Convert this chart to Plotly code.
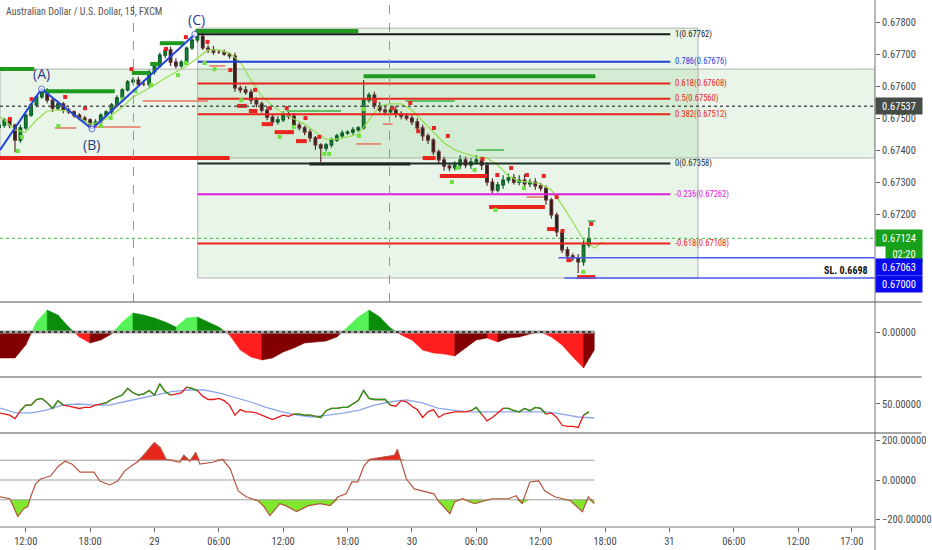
import numpy as np
import plotly.graph_objects as go
from plotly.subplots import make_subplots

FONT = "Roboto Condensed, DejaVu Sans Condensed, sans-serif"

# ---------------- data (time = hours counted from 28th 00:00) ----------------
bar_hours = [9.5 + 0.5 * i for i in range(111)]   # 30 min bars
first_open = 0.67470
closes = [
    0.67478, 0.67494, 0.67478, 0.67431, 0.67469, 0.67509, 0.67541, 0.67566, 0.67581, 0.67556,
    0.67531, 0.67544, 0.67525, 0.67519, 0.67509, 0.67500, 0.67494, 0.67481, 0.67488, 0.67509,
    0.67519, 0.67541, 0.67563, 0.67588, 0.67613, 0.67619, 0.67606, 0.67606, 0.67644, 0.67663,
    0.67697, 0.67713, 0.67675, 0.67663, 0.67675, 0.67719, 0.67744, 0.67756, 0.67719, 0.67713,
    0.67706, 0.67706, 0.67700, 0.67694, 0.67594, 0.67588, 0.67581, 0.67556, 0.67544, 0.67525,
    0.67503, 0.67488, 0.67494, 0.67513, 0.67506, 0.67478, 0.67469, 0.67456, 0.67438, 0.67416,
    0.67406, 0.67416, 0.67431, 0.67444, 0.67453, 0.67456, 0.67463, 0.67469, 0.67556, 0.67572,
    0.67538, 0.67525, 0.67519, 0.67525, 0.67513, 0.67506, 0.67500, 0.67488, 0.67469, 0.67444,
    0.67431, 0.67394, 0.67369, 0.67350, 0.67344, 0.67353, 0.67369, 0.67353, 0.67363, 0.67369,
    0.67353, 0.67300, 0.67275, 0.67291, 0.67306, 0.67313, 0.67300, 0.67306, 0.67294, 0.67300,
    0.67288, 0.67281, 0.67244, 0.67197, 0.67144, 0.67088, 0.67069, 0.67063, 0.67050, 0.67103,
    0.67124,
]
# wick lengths in points (1e-5)
up_wick = [
    8, 6, 5, 4, 10, 6, 5, 6, 10, 12,
    8, 10, 6, 8, 5, 6, 7, 5, 8, 6,
    5, 6, 8, 5, 6, 8, 10, 12, 6, 5,
    8, 7, 10, 12, 6, 5, 6, 8, 10, 9,
    12, 7, 8, 6, 10, 8, 12, 10, 9, 8,
    10, 7, 12, 8, 6, 10, 8, 7, 9, 6,
    5, 6, 8, 7, 9, 6, 8, 6, 63, 8,
    10, 12, 15, 10, 12, 8, 10, 9, 11, 10,
    8, 6, 8, 10, 9, 12, 15, 10, 12, 15,
    10, 8, 12, 10, 15, 14, 12, 15, 18, 10,
    12, 10, 8, 6, 8, 6, 10, 8, 12, 22,
    35,
]
dn_wick = [
    6, 8, 10, 38, 8, 6, 5, 8, 6, 10,
    12, 8, 10, 6, 8, 7, 6, 15, 5, 6,
    5, 8, 6, 7, 5, 6, 8, 6, 10, 8,
    6, 10, 12, 8, 6, 5, 6, 8, 6, 10,
    8, 6, 5, 8, 12, 10, 8, 12, 10, 8,
    10, 12, 8, 6, 10, 12, 8, 10, 12, 15,
    43, 10, 8, 6, 8, 6, 8, 6, 5, 8,
    10, 8, 10, 8, 12, 10, 8, 10, 12, 15,
    12, 10, 12, 15, 10, 8, 12, 10, 12, 8,
    15, 12, 10, 8, 12, 10, 8, 10, 12, 10,
    12, 10, 15, 12, 15, 10, 8, 10, 34, 12,
    8,
]

# lime trailing line
ma_hours = [9.6] + list(range(10, 66)) + [65.8]
ma_prices = [
    0.67503, 0.67494, 0.67463, 0.67456, 0.67494, 0.67522, 0.67525, 0.67522, 0.67500, 0.67481,
    0.67488, 0.67509, 0.67534, 0.67566, 0.67584, 0.67603, 0.67625, 0.67644, 0.67663, 0.67688,
    0.67713, 0.67713, 0.67703, 0.67675, 0.67619, 0.67569, 0.67538, 0.67516, 0.67497, 0.67481,
    0.67456, 0.67434, 0.67434, 0.67441, 0.67450, 0.67494, 0.67538, 0.67544, 0.67544, 0.67525,
    0.67491, 0.67459, 0.67422, 0.67400, 0.67388, 0.67378, 0.67375, 0.67353, 0.67319, 0.67303,
    0.67300, 0.67294, 0.67275, 0.67228, 0.67175, 0.67119, 0.67094, 0.67113,
]

# fractal dots
red_dot_hours = [10.52, 12.55, 15.68, 17.53, 21.86, 25.08, 26.93, 28.95, 31.07, 33.38,
                 34.76, 36.33, 38.08, 39.37, 44.53, 46.19, 47.85, 48.59, 50.06, 51.35,
                 54.58, 55.96, 57.25, 58.72, 60.29, 61.49, 62.04, 64.71]
red_dot_prices = [0.67497, 0.67559, 0.67566, 0.67531, 0.67653, 0.67716, 0.67753, 0.67738, 0.67650, 0.67588,
                  0.67531, 0.67531, 0.67500, 0.67441, 0.67553, 0.67531, 0.67547, 0.67459, 0.67469, 0.67444,
                  0.67372, 0.67322, 0.67344, 0.67322, 0.67319, 0.67253, 0.67147, 0.67169]
green_dot_hours = [11.26, 11.63, 15.04, 19.0, 19.92, 21.03, 22.23, 23.7, 26.19, 26.93,
                   28.68, 29.6, 32.09, 35.68, 36.97, 39.83, 40.29, 43.06, 43.52, 51.72,
                   52.27, 53.84, 55.78, 58.45, 63.98]
green_dot_prices = [0.67397, 0.67441, 0.67475, 0.67475, 0.67500, 0.67559, 0.67584, 0.67603, 0.67634, 0.67672,
                    0.67672, 0.67653, 0.67556, 0.67441, 0.67472, 0.67388, 0.67388, 0.67444, 0.67528, 0.67300,
                    0.67344, 0.67338, 0.67213, 0.67281, 0.67019]

# support / resistance segments: (start hour, end hour, price)
green_thick = [(9.0, 12.8, 0.67653), (13.6, 20.3, 0.67584), (21.9, 23.6, 0.67641), (23.6, 24.4, 0.67669),
               (24.5, 26.8, 0.67734), (27.8, 43.0, 0.67772), (43.5, 65.1, 0.67631)]
green_thin = [(36.3, 41.4, 0.67522), (47.4, 52.0, 0.67553), (54.0, 56.6, 0.67400), (64.4, 65.1, 0.67178)]
red_thick = [(9.0, 31.0, 0.67375), (31.7, 32.6, 0.67538), (32.8, 33.6, 0.67522), (34.0, 35.0, 0.67481),
             (35.2, 37.0, 0.67456), (37.2, 38.2, 0.67428), (49.0, 50.2, 0.67375), (50.6, 55.0, 0.67319),
             (55.2, 60.4, 0.67222), (60.6, 61.4, 0.67153), (62.4, 62.9, 0.67056), (63.4, 65.1, 0.67003)]
black_thick = [(38.45, 47.85, 0.67356)]
red_thin = [(14.7, 16.7, 0.67469), (17.9, 22.7, 0.67472), (22.9, 29.0, 0.67553), (29.1, 30.6, 0.67663),
            (42.8, 45.1, 0.67419), (45.3, 46.2, 0.67481), (58.7, 60.3, 0.67253)]

# ABC wave
abc_hours = [9.6, 13.47, 18.17, 27.76]
abc_prices = [0.67400, 0.67591, 0.67466, 0.67762]
abc_names = ["(A)", "(B)", "(C)"]

# Fibonacci extension
fib_start, fib_end, fib_box_end = 28.03, 72.09, 74.67
fib_levels = ["1", "0.786", "0.618", "0.5", "0.382", "0", "-0.236", "-0.618"]
fib_prices = [0.67762, 0.67676, 0.67608, 0.67560, 0.67512, 0.67358, 0.67262, 0.67108]
fib_box_low, fib_box_high = 0.67000, 0.67781
zone_low, zone_high = 0.67375, 0.67653

ref_price = 0.67537
last_price = 0.67124
countdown = "02:20"
target_price, target_start = 0.67063, 61.67
stop_price, stop_start = 0.67000, 62.2
stop_text = "SL. 0.6698"
session_marks = [22.04, 45.91]

# oscillator panel
osc_hours = list(range(9, 66))
osc_values = [-0.0026, -0.0026, -0.0026, -0.0013, 0.0010, 0.0022, 0.0017, 0.0005, -0.0005, -0.0011,
              -0.0008, -0.0002, 0.0010, 0.0019, 0.0017, 0.0014, 0.0010, 0.0005, 0.0014, 0.0015,
              0.0010, 0.0005, -0.0003, -0.0018, -0.0025, -0.0028, -0.0026, -0.0020, -0.0016, -0.0011,
              -0.0010, -0.0009, -0.0005, 0.0005, 0.0015, 0.0022, 0.0015, 0.0004, -0.0003, -0.0008,
              -0.0018, -0.0021, -0.0022, -0.0024, -0.0016, -0.0008, -0.0006, -0.0010, -0.0006, -0.0005,
              -0.0002, 0.0000, -0.0005, -0.0013, -0.0025, -0.0036, -0.0018]

# RSI panel (per bar) and its signal
rsi_values = [42, 41, 40, 37, 44, 49, 49, 54, 55, 51,
              46, 53, 49, 48, 47, 46, 47, 47, 49, 50,
              51, 54, 56, 58, 64, 60, 58, 59, 62, 58,
              68, 61, 58, 59, 60, 65, 64, 62, 57, 54,
              54, 55, 53, 49, 40, 45, 43, 43, 42, 40,
              38, 36, 38, 40, 39, 41, 41, 40, 40, 39,
              38, 44, 46, 46, 47, 47, 50, 53, 62, 55,
              54, 54, 54, 49, 48, 53, 52, 48, 45, 38,
              43, 45, 38, 41, 42, 43, 43, 43, 44, 47,
              41, 35, 38, 42, 46, 46, 44, 43, 46, 44,
              47, 46, 41, 42, 38, 31, 30, 30, 29, 40,
              43]
sig_hours = [9.6, 11.1, 12.6, 13.9, 15.4, 16.9, 18.4, 19.8, 21.2, 22.7,
             24.2, 25.6, 27.1, 28.6, 30.0, 31.4, 32.9, 34.4, 35.9, 37.3,
             38.7, 40.2, 41.7, 43.1, 44.5, 46.0, 47.5, 49.0, 50.4, 51.8,
             53.3, 54.8, 56.2, 57.7, 59.2, 60.6, 62.0, 63.5, 65.0]
sig_values = [46.4, 42, 42, 44.6, 49, 50, 49, 49, 52, 55,
              58, 61, 62.5, 62.5, 60, 56, 52, 47, 43, 40,
              38.4, 40, 42, 44.6, 49, 52, 53.6, 51, 46.4, 44.6,
              42.9, 42.9, 42.9, 42.9, 42.9, 42.9, 41, 38.4, 37.5]

# CCI panel
cci_hours = [9.6, 10.52, 11.26, 11.81, 12.18, 12.46, 12.92, 13.38, 14.30, 15.04,
             15.68, 16.33, 17.07, 18.36, 18.91, 19.83, 20.57, 21.21, 21.95, 22.50,
             23.06, 23.98, 24.53, 25.08, 26.37, 26.74, 27.30, 27.85, 28.22, 29.42,
             30.34, 31.07, 31.81, 32.55, 33.66, 34.21, 34.76, 35.68, 36.24, 37.25,
             38.36, 39.46, 40.38, 41.12, 41.86, 42.41, 42.96, 43.52, 44.07, 45.27,
             46.37, 46.65, 46.93, 47.48, 48.22, 49.32, 50.06, 50.43, 51.54, 52.00,
             52.73, 53.84, 54.76, 55.50, 56.97, 57.71, 58.26, 59.00, 59.83, 60.38,
             61.31, 62.78, 63.89, 64.44, 65.0]
cci_values = [-85, -95, -185, -145, -135, -85, -20, 5, 20, 70,
              95, 80, 40, 40, -5, -25, -5, 45, 75, 95,
              130, 190, 165, 105, 90, 125, 95, 140, 80, 90,
              105, 55, -55, -85, -105, -135, -180, -120, -130, -160,
              -130, -120, -130, -85, -70, -10, -10, 70, 105, 115,
              125, 155, 105, 5, -45, -60, -70, -105, -170, -110,
              -95, -120, -105, -95, -95, -80, -120, -10, -5, -55,
              -85, -105, -160, -85, -120]

tick_hours = [12, 18, 24, 30, 36, 42, 48, 54, 60, 66, 72, 78, 84, 89]
tick_text = ["12:00", "18:00", "29", "06:00", "12:00", "18:00", "30", "06:00", "12:00", "18:00",
             "31", "06:00", "12:00", "17:00"]

# ---------------- figure ----------------
X_RANGE = [9.6, 91.17]
row_h = [302, 75, 56, 94]
fig = make_subplots(rows=4, cols=1, shared_xaxes=True, vertical_spacing=0, row_heights=row_h)


def seg_xy(segs):
    xs, ys = [], []
    for x0, x1, p in segs:
        xs += [x0, x1, None]
        ys += [p, p, None]
    return xs, ys


def line_trace(x, y, color, width, row=1, dash=None):
    fig.add_trace(go.Scatter(x=x, y=y, mode="lines", line=dict(color=color, width=width, dash=dash),
                             hoverinfo="skip", showlegend=False), row=row, col=1)


# boxes
fig.add_shape(type="rect", xref="x", yref="y", x0=X_RANGE[0], x1=X_RANGE[1], y0=zone_low, y1=zone_high,
              fillcolor="rgba(76,175,80,0.13)", line=dict(color="rgba(150,150,150,0.7)", width=1), layer="below")
fig.add_shape(type="rect", xref="x", yref="y", x0=fib_start, x1=fib_box_end, y0=fib_box_low, y1=fib_box_high,
              fillcolor="rgba(76,175,80,0.13)", line=dict(color="rgba(150,150,150,0.7)", width=1), layer="below")
for h in session_marks:
    fig.add_shape(type="line", xref="x", yref="y domain", x0=h, x1=h, y0=0, y1=1,
                  line=dict(color="#6e98ee", width=1, dash="dash"))
fig.add_shape(type="line", xref="x domain", yref="y", x0=0, x1=1, y0=ref_price, y1=ref_price,
              line=dict(color="#555", width=1.5, dash="dot"))
fig.add_shape(type="line", xref="x domain", yref="y", x0=0, x1=1, y0=last_price, y1=last_price,
              line=dict(color="#44b84a", width=1, dash="dot"))

# candles
opens = [first_open] + closes[:-1]
highs = [max(o, c) + u / 1e5 for o, c, u in zip(opens, closes, up_wick)]
lows = [min(o, c) - d / 1e5 for o, c, d in zip(opens, closes, dn_wick)]
fig.add_trace(go.Candlestick(
    x=bar_hours, open=opens, high=highs, low=lows, close=closes, whiskerwidth=0,
    increasing=dict(line=dict(color="#0d5e24", width=1.2), fillcolor="#12863a"),
    decreasing=dict(line=dict(color="#5a2c2c", width=1.2), fillcolor="#1e1e1e"),
    hoverinfo="skip", showlegend=False), row=1, col=1)

line_trace(ma_hours, ma_prices, "#93dd4e", 1.2)

for segs, color, width in [(red_thin, "#e8735f", 1.5), (green_thin, "#3cb043", 1.5),
                           (green_thick, "#1e9a1e", 4), (red_thick, "#ea241c", 4), (black_thick, "#202020", 3)]:
    xs, ys = seg_xy(segs)
    line_trace(xs, ys, color, width)

fib_colors = ["#1a1a1a", "#1f3fd8", "#ea241c", "#ea241c", "#ea241c", "#1e2e26", "#e020e0", "#ea241c"]
for lvl, p, c in zip(fib_levels, fib_prices, fib_colors):
    line_trace([fib_start, fib_end], [p, p], c, 2)
    fig.add_annotation(x=fib_end, y=p, xref="x", yref="y", text=f"{lvl}({p:.5f})", showarrow=False,
                       xanchor="left", xshift=3, font=dict(family=FONT, size=8.5, color=c))

line_trace([target_start, X_RANGE[1]], [target_price, target_price], "#4a5cf0", 1.5)
line_trace([stop_start, X_RANGE[1]], [stop_price, stop_price], "#4a5cf0", 1.5)
fig.add_annotation(x=X_RANGE[1], y=stop_price, xref="x", yref="y", text=f"<b>{stop_text}</b>",
                   showarrow=False, xanchor="right", yanchor="bottom", xshift=-5, yshift=0,
                   font=dict(family=FONT, size=10, color="#111"))

fig.add_trace(go.Scatter(x=red_dot_hours, y=red_dot_prices, mode="markers",
                         marker=dict(color="#e82424", size=4, symbol="square"),
                         hoverinfo="skip", showlegend=False), row=1, col=1)
fig.add_trace(go.Scatter(x=green_dot_hours, y=green_dot_prices, mode="markers",
                         marker=dict(color="#70e040", size=4, symbol="square"),
                         hoverinfo="skip", showlegend=False), row=1, col=1)

fig.add_trace(go.Scatter(x=abc_hours, y=abc_prices, mode="lines+markers",
                         line=dict(color="#2442dc", width=2),
                         marker=dict(size=[0, 6, 6, 6], color="white", line=dict(color="#2442dc", width=1)),
                         hoverinfo="skip", showlegend=False), row=1, col=1)
for name, h, p, shift in zip(abc_names, abc_hours[1:], abc_prices[1:], [15, -16, 15]):
    fig.add_annotation(x=h, y=p, xref="x", yref="y", text=name, showarrow=False, yshift=shift,
                       xshift=2 if name == "(C)" else 0,
                       font=dict(family="Open Sans, sans-serif", size=14, color="#2c3c88"))

# oscillator panel
osc_cols = {"up_pos": "#57f257", "dn_pos": "#0b8c0b", "dn_neg": "#ff1e1e", "up_neg": "#820000"}
paths = {k: ([], []) for k in osc_cols}
for h0, h1, v0, v1 in zip(osc_hours[:-1], osc_hours[1:], osc_values[:-1], osc_values[1:]):
    slope = v1 - v0
    if v0 * v1 < 0:
        hz = h0 + (h1 - h0) * v0 / (v0 - v1)
        pieces = [([h0, h0, hz], [0, v0, 0], v0), ([hz, h1, h1], [0, v1, 0], v1)]
    else:
        pieces = [([h0, h0, h1, h1], [0, v0, v1, 0], (v0 + v1) / 2)]
    for px, py, vm in pieces:
        if vm >= 0:
            k = "up_pos" if slope >= 0 else "dn_pos"
        else:
            k = "dn_neg" if slope < 0 else "up_neg"
        paths[k][0].extend(px + [px[0], None])
        paths[k][1].extend(py + [py[0], None])
for k, c in osc_cols.items():
    fig.add_trace(go.Scatter(x=paths[k][0], y=paths[k][1], mode="lines", fill="toself", fillcolor=c,
                             line=dict(color=c, width=0.5), hoverinfo="skip", showlegend=False), row=2, col=1)
line_trace([X_RANGE[0], osc_hours[-1]], [0, 0], "#a8a8a8", 3, row=2)
line_trace([X_RANGE[0], osc_hours[-1]], [0, 0], "#1a1a1a", 1.5, row=2, dash="dot")

# RSI panel
sig_at_bars = np.interp(bar_hours, sig_hours, sig_values)
above = [r > s for r, s in zip(rsi_values, sig_at_bars)]
green_rsi = [v if (above[i] or (i > 0 and above[i - 1])) else None for i, v in enumerate(rsi_values)]
line_trace(sig_hours, sig_values, "#8ea6ea", 1.3, row=3)
line_trace(bar_hours, rsi_values, "#e41a1a", 1.3, row=3)
line_trace(bar_hours, green_rsi, "#1fa01f", 1.3, row=3)

# CCI panel
cci = np.array(cci_values, dtype=float)
n = len(cci_hours)
line_trace(cci_hours, [100] * n, "rgba(0,0,0,0)", 0, row=4)
fig.add_trace(go.Scatter(x=cci_hours, y=np.maximum(cci, 100), mode="lines", fill="tonexty",
                         fillcolor="#e8261c", line=dict(width=0), hoverinfo="skip", showlegend=False), row=4, col=1)
line_trace(cci_hours, [-100] * n, "rgba(0,0,0,0)", 0, row=4)
fig.add_trace(go.Scatter(x=cci_hours, y=np.minimum(cci, -100), mode="lines", fill="tonexty",
                         fillcolor="#7fe82c", line=dict(width=0), hoverinfo="skip", showlegend=False), row=4, col=1)
line_trace([X_RANGE[0], cci_hours[-1]], [100, 100], "#a0a0a0", 1, row=4)
line_trace([X_RANGE[0], cci_hours[-1]], [-100, -100], "#a0a0a0", 1, row=4)
line_trace([X_RANGE[0], cci_hours[-1]], [0, 0], "#cfcfcf", 2, row=4)
line_trace(cci_hours, cci_values, "#b4543e", 1.2, row=4)

# ---------------- axes ----------------
axis_font = dict(family=FONT, size=10.5, color="#4a4a4a")
fig.update_xaxes(range=X_RANGE, showgrid=False, zeroline=False, showline=False, rangeslider_visible=False)
fig.update_xaxes(tickvals=tick_hours, ticktext=tick_text, ticks="outside", ticklen=4, tickcolor="#666",
                 tickfont=axis_font, row=4, col=1)
fig.update_yaxes(side="right", showgrid=False, zeroline=False, showline=False, ticks="outside",
                 ticklen=4, tickcolor="#666", tickfont=axis_font)
fig.update_yaxes(range=[0.66925, 0.67869], tickvals=[0.672, 0.673, 0.674, 0.675, 0.676, 0.677, 0.678],
                 tickformat=".5f", row=1, col=1)
fig.update_yaxes(range=[-0.0045, 0.0030], tickvals=[0], ticktext=["0.00000"], row=2, col=1)
fig.update_yaxes(range=[24.1, 74.1], tickvals=[50], ticktext=["50.00000"], row=3, col=1)
fig.update_yaxes(range=[-238, 238], tickvals=[200, 0, -200],
                 ticktext=["200.00000", "0.00000", "\u2212200.00000"], row=4, col=1)

# panel separators and price axis line
total = sum(row_h)
right_edge = 1 + 47 / 885
acc = 0
for h in row_h[:-1]:
    acc += h
    yb = 1 - acc / total
    fig.add_shape(type="line", xref="paper", yref="paper", x0=0, x1=right_edge, y0=yb, y1=yb,
                  line=dict(color="#8a8a8a", width=1.5))
fig.add_shape(type="line", xref="paper", yref="paper", x0=0, x1=1, y0=0, y1=0, line=dict(color="#777", width=1))
fig.add_shape(type="line", xref="paper", yref="paper", x0=1, x1=1, y0=-0.05, y1=1, line=dict(color="#777", width=1))

# price tags on the axis
tag_font = dict(family=FONT, size=10.5, color="white")
for p, txt, bg, shift in [(ref_price, f"{ref_price:.5f}", "#464c48", 0),
                          (last_price, f"{last_price:.5f}", "#17a11b", 0),
                          (last_price, countdown, "#17a11b", -16),
                          (target_price, f"{target_price:.5f}", "#0a0af0", -9),
                          (stop_price, f"{stop_price:.5f}", "#0a0af0", -6)]:
    fig.add_annotation(x=1, y=p, xref="paper", yref="y", text=txt, showarrow=False, xanchor="left",
                       xshift=(10 if txt == countdown else 0), yshift=shift, bgcolor=bg, font=tag_font,
                       width=(34 if txt == countdown else 44), height=14, align="center", borderpad=1)

fig.add_annotation(x=0.004, y=1, xref="paper", yref="paper", text="Australian Dollar / U.S. Dollar, 15, FXCM",
                   showarrow=False, xanchor="left", yanchor="top", yshift=-4,
                   font=dict(family=FONT, size=10, color="#555"))

fig.update_layout(width=932, height=550, margin=dict(l=0, r=47, t=0, b=23),
                  plot_bgcolor="white", paper_bgcolor="white", showlegend=False, hovermode=False,
                  font=dict(family=FONT, size=10, color="#4a4a4a"))

fig.write_html("out.html", config={"displayModeBar": False},
               post_script="document.body.style.margin='0';document.body.style.overflow='hidden';")
